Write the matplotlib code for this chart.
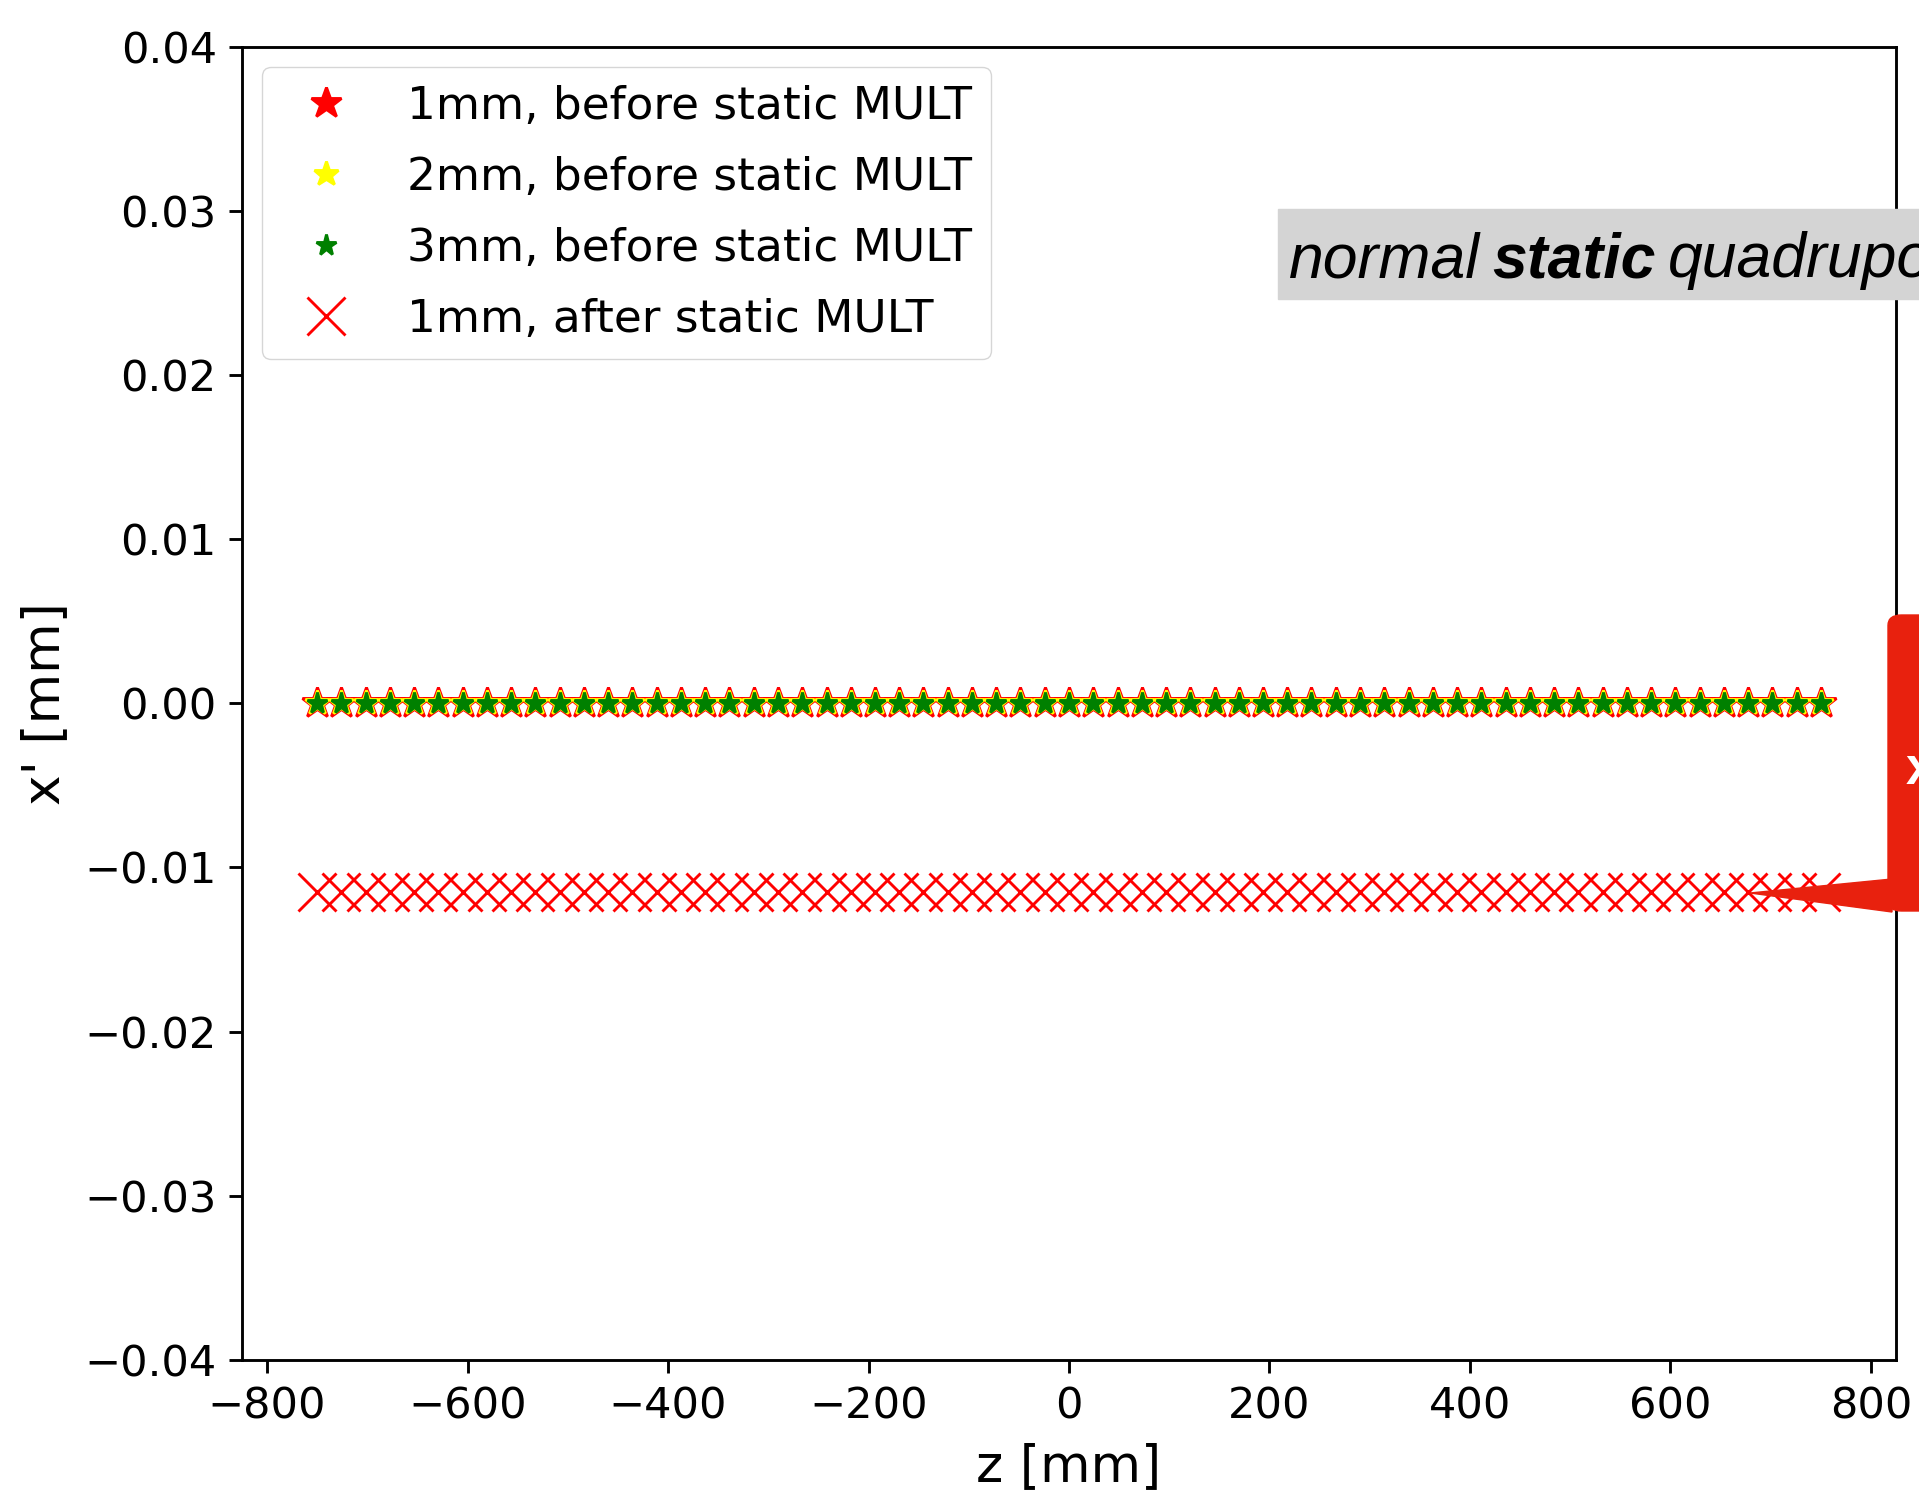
import matplotlib
matplotlib.use("Agg")
import matplotlib.pyplot as plt
from matplotlib.patches import Rectangle, FancyBboxPatch, Polygon

# z positions of the tracked particles [mm]
z = [-750.0, -725.8, -701.6, -677.4, -653.2, -629.0, -604.8, -580.6, -556.5,
     -532.3, -508.1, -483.9, -459.7, -435.5, -411.3, -387.1, -362.9, -338.7,
     -314.5, -290.3, -266.1, -241.9, -217.7, -193.5, -169.4, -145.2, -121.0,
     -96.8, -72.6, -48.4, -24.2, 0.0, 24.2, 48.4, 72.6, 96.8, 121.0, 145.2,
     169.4, 193.5, 217.7, 241.9, 266.1, 290.3, 314.5, 338.7, 362.9, 387.1,
     411.3, 435.5, 459.7, 483.9, 508.1, 532.3, 556.5, 580.6, 604.8, 629.0,
     653.2, 677.4, 701.6, 725.8, 750.0]

# x' values [mm]
xp_1mm_before = [0.0] * len(z)
xp_2mm_before = [0.0] * len(z)
xp_3mm_before = [0.0] * len(z)
xp_1mm_after = [-0.0115] * len(z)

labels = ["1mm, before static MULT", "2mm, before static MULT",
          "3mm, before static MULT", "1mm, after static MULT"]
xticks = [-800, -600, -400, -200, 0, 200, 400, 600, 800]
yticks = [-0.04, -0.03, -0.02, -0.01, 0.00, 0.01, 0.02, 0.03, 0.04]

S = 2.59  # scale from the original notebook figure

plt.rcParams['font.family'] = ['DejaVu Sans']
plt.rcParams['axes.linewidth'] = 0.8 * S

W, H = 1919, 1492
fig = plt.figure(figsize=(W / 100, H / 100), dpi=100)
ax = fig.add_axes([242 / W, 1 - 1360 / H, (1896 - 242) / W, (1360 - 46.5) / H])

ax.plot(z, xp_1mm_before, '*', color='red', ms=9 * S, mew=0.8 * S, label=labels[0])
ax.plot(z, xp_2mm_before, '*', color='yellow', ms=7.2 * S, mew=0.8 * S, label=labels[1])
ax.plot(z, xp_3mm_before, '*', color='green', ms=6 * S, mew=0.8 * S, label=labels[2])
ax.plot(z, xp_1mm_after, 'x', color='red', ms=10.3 * S, mew=0.8 * S, label=labels[3])

ax.set_ylim(-0.04, 0.04)
ax.set_xticks(xticks)
ax.set_yticks(yticks)
ax.tick_params(labelsize=12 * S, length=3.5 * S, width=0.8 * S, pad=3.5 * S)
ax.set_xlabel("z [mm]", fontsize=14.4 * S, labelpad=4 * S)
ax.set_ylabel("x' [mm]", fontsize=14.4 * S, labelpad=4 * S)
ax.legend(loc='upper left', fontsize=12.6 * S, borderaxespad=0.45,
          labelspacing=0.62, framealpha=0.8)

# slide overlays: grey caption and red callout
fig.patches.append(Rectangle((1278 / W, 1 - 299 / H), 0.5, 90 / H,
                             transform=fig.transFigure, color='#d4d4d4', zorder=5))
renderer = fig.canvas.get_renderer()
xpos = 1289 / W
for part, weight in [("normal", 'normal'), ("static", 'bold'), ("quadrupole", 'normal')]:
    t = fig.text(xpos, 1 - 277 / H, part, fontsize=45, style='italic', weight=weight,
                 family=['Liberation Sans', 'DejaVu Sans'], va='baseline', zorder=6)
    ext = t.get_window_extent(renderer)
    xpos = (ext.x1 + 12) / W

red = '#e8210e'
fig.patches.append(FancyBboxPatch((1888 / W, 1 - 911 / H), 0.2, (911 - 615) / H,
                                  boxstyle="round,pad=0,rounding_size=0.007",
                                  transform=fig.transFigure, color=red, zorder=5))
fig.patches.append(Polygon([(1892 / W, 1 - 879 / H), (1892 / W, 1 - 912 / H),
                            (1750 / W, 1 - 893 / H)],
                           closed=True, transform=fig.transFigure, color=red, zorder=5))
fig.text(1906 / W, 1 - 770 / H, "x", color='white', fontsize=37, weight='bold',
         family=['Liberation Sans', 'DejaVu Sans'], va='center', zorder=6)

fig.savefig("out.png", dpi=100)
